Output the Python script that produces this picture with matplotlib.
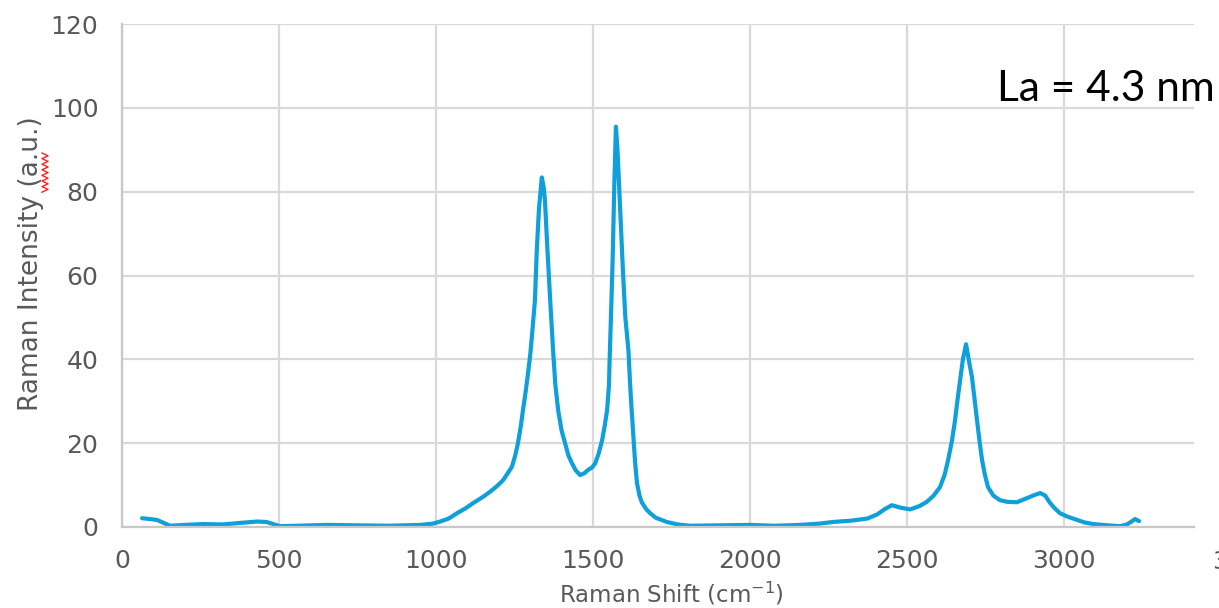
import matplotlib
matplotlib.use('Agg')
import matplotlib.pyplot as plt
import numpy as np

# Raman spectrum (shift in cm-1, intensity in a.u.)
shift = [64, 111, 153, 200, 260, 320, 380, 430, 460, 503, 560, 650, 750, 850, 950, 990,
         1013, 1040, 1067, 1095, 1118, 1150, 1172, 1195, 1214, 1230, 1242, 1252, 1261, 1270,
         1277, 1285, 1293, 1300, 1306, 1315, 1321, 1328, 1337, 1343, 1347, 1355, 1363, 1373,
         1380, 1389, 1400, 1411, 1422, 1433, 1445, 1459, 1472, 1484, 1497, 1507, 1518, 1529,
         1537, 1545, 1551, 1553, 1558, 1563, 1568, 1573, 1578, 1584, 1590, 1596, 1603, 1608,
         1613, 1618, 1623, 1628, 1634, 1640, 1648, 1656, 1670, 1682, 1700, 1735, 1770, 1809,
         1900, 2000, 2080, 2159, 2220, 2265, 2320, 2373, 2405, 2430, 2452, 2480, 2510, 2540,
         2563, 2585, 2605, 2620, 2631, 2643, 2653, 2662, 2669, 2678, 2688, 2694, 2700, 2707,
         2715, 2723, 2731, 2739, 2748, 2758, 2775, 2796, 2820, 2850, 2882, 2905, 2924, 2940,
         2955, 2970, 2987, 3010, 3041, 3065, 3093, 3140, 3179, 3200, 3215, 3226, 3239]
intensity = [2.1, 1.7, 0.3, 0.5, 0.7, 0.6, 1.0, 1.3, 1.2, 0.2, 0.3, 0.5, 0.4, 0.3, 0.5, 0.8,
             1.3, 2.0, 3.3, 4.5, 5.7, 7.2, 8.4, 9.8, 11.2, 13.0, 14.4, 17.0, 20.0, 24.0,
             27.9, 32.0, 36.6, 41.0, 46.0, 54.0, 66.0, 76.0, 83.4, 81.0, 77.9, 66.0, 55.0, 42.0,
             34.0, 27.9, 23.0, 20.0, 17.0, 15.2, 13.5, 12.4, 12.8, 13.6, 14.2, 15.2, 17.5, 20.7,
             24.0, 27.9, 34.0, 40.0, 52.0, 65.0, 82.0, 95.5, 90.0, 80.0, 70.0, 60.0, 50.0, 46.0,
             42.0, 34.3, 28.0, 22.4, 15.5, 10.5, 7.5, 5.8, 4.2, 3.3, 2.2, 1.2, 0.6, 0.3,
             0.4, 0.5, 0.3, 0.5, 0.8, 1.2, 1.5, 2.0, 3.0, 4.3, 5.2, 4.6, 4.2, 5.0,
             6.0, 7.5, 9.5, 12.5, 16.0, 20.5, 25.5, 31.0, 35.0, 40.0, 43.6, 41.0, 38.5, 35.7,
             30.5, 25.5, 20.5, 16.0, 12.5, 9.5, 7.5, 6.4, 6.0, 5.9, 6.9, 7.6, 8.1, 7.5,
             5.8, 4.5, 3.3, 2.5, 1.7, 1.1, 0.7, 0.4, 0.2, 0.6, 1.3, 1.9, 1.4]

xticks = [0, 500, 1000, 1500, 2000, 2500, 3000]
yticks = [0, 20, 40, 60, 80, 100, 120]

plt.rcParams['mathtext.fontset'] = 'custom'
plt.rcParams['mathtext.rm'] = 'DejaVu Sans'
plt.rcParams['font.family'] = 'DejaVu Sans'

W, H = 1219, 608
fig = plt.figure(figsize=(W / 100, H / 100), dpi=100)
ax = fig.add_axes([122 / W, 1 - 527 / H, (1194 - 122) / W, (527 - 24) / H])

ax.plot(shift, intensity, color='#0f9fdb', lw=3.0, solid_capstyle='round')

ax.set_xlim(0, 3500 * (1194 - 122) / (1221 - 122))
ax.set_ylim(0, 120)
ax.set_xticks(xticks)
ax.set_yticks(yticks)
ax.grid(True, color='#d9d9d9', lw=1.6)
ax.set_axisbelow(True)
for s in ['top', 'right']:
    ax.spines[s].set_visible(False)
for s in ['left', 'bottom']:
    ax.spines[s].set_color('#c8c8c8')
    ax.spines[s].set_linewidth(1.6)
ax.tick_params(length=0, labelsize=18, colors='#595959')
ax.tick_params(axis='x', pad=16)
ax.tick_params(axis='y', pad=17)

# axis titles
fig.text(671 / W, 1 - 594 / H, 'Raman Shift (cm$^{-1}$)', fontsize=16.5, color='#595959',
         ha='center', va='center')
fig.text(31 / W, 1 - 264 / H, 'Raman Intensity (a.u.)', fontsize=19, color='#595959',
         ha='center', va='center', rotation=90)

# cut-off tick label at the right edge
fig.text(1212 / W, 1 - 562 / H, '3500', fontsize=18, color='#595959',
         ha='left', va='center')

fig.text(997 / W, 1 - 89 / H, 'La = 4.3 nm', fontsize=30.5, color='black',
         fontfamily='Lato', ha='left', va='center')

# red spell-check squiggle beside the y label
zx, zy = [], []
for i in range(15):
    zx.append((42 if i % 2 == 0 else 48) / W)
    zy.append(1 - (153 + i * 2.8) / H)
fig.add_artist(plt.Line2D(zx, zy, color='#ff2020', lw=1.0))

fig.savefig('out.png', dpi=100)
